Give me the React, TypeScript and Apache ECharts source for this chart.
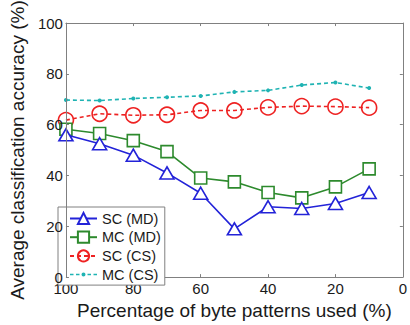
import React, { useEffect, useRef } from "react";
import * as echarts from "echarts";

const xVals = [100, 90, 80, 70, 60, 50, 40, 30, 20, 10];
const scMD = [56, 52.5, 48, 41, 33, 19, 27.7, 27, 29, 33.3];
const mcMD = [58.2, 56.5, 53.7, 49.4, 39, 37.5, 33.3, 31.2, 35.5, 42.6];
const scCS = [61.8, 64.3, 63.7, 63.9, 65.6, 65.6, 66.8, 67.3, 67.1, 66.7];
const mcCS = [69.7, 69.5, 70.3, 70.8, 71.3, 72.9, 73.5, 75.6, 76.6, 74.4];
const seriesNames = ["SC (MD)", "MC (MD)", "SC (CS)", "MC (CS)"];
const xTitle = "Percentage of byte patterns used (%)";
const yTitle = "Average classification accuracy (%)";

const FONT = "'Liberation Sans', Arial, sans-serif";
const AXIS_COLOR = "#808080";
const TEXT_COLOR = "#1a1a1a";
const DOT_LEGEND_ICON =
  "path://M0,1.25h3.5v1.5h-3.5z M6,1.25h3.5v1.5h-3.5z M17.5,1.25h3.5v1.5h-3.5z M23.5,1.25h3.5v1.5h-3.5z M11.5,2a2,2 0 1,0 4,0a2,2 0 1,0 -4,0z";

function pairs(ys: number[]) {
  return xVals.map((x, i) => [x, ys[i]]);
}

export default function App() {
  const ref = useRef<HTMLDivElement>(null);
  useEffect(() => {
    if (!ref.current) return;
    const chart = echarts.init(ref.current, undefined, { renderer: "svg" });
    const axisCommon = {
      axisLine: { show: true, onZero: false, lineStyle: { color: AXIS_COLOR, width: 1 } },
      axisTick: { show: true, inside: true, length: 3, lineStyle: { color: AXIS_COLOR } },
      splitLine: { show: false },
    };
    chart.setOption({
      animation: false,
      backgroundColor: "#fff",
      textStyle: { fontFamily: FONT },
      grid: { left: 56, top: 12, right: 1, bottom: 42.5, containLabel: false },
      xAxis: [
        {
          type: "value",
          min: 0,
          max: 100,
          interval: 20,
          inverse: true,
          position: "bottom",
          ...axisCommon,
          axisLabel: { color: TEXT_COLOR, fontSize: 15, margin: 4, fontFamily: FONT },
          name: xTitle,
          nameLocation: "middle",
          nameGap: 20,
          nameTextStyle: { color: TEXT_COLOR, fontSize: 19, fontFamily: FONT },
        },
        {
          type: "value",
          min: 0,
          max: 100,
          interval: 20,
          inverse: true,
          position: "top",
          ...axisCommon,
          axisLabel: { show: false },
        },
      ],
      yAxis: [
        {
          type: "value",
          min: 0,
          max: 100,
          interval: 20,
          position: "left",
          z: 10,
          ...axisCommon,
          axisLabel: { color: TEXT_COLOR, fontSize: 15, margin: 3, fontFamily: FONT },
          name: yTitle,
          nameLocation: "middle",
          nameGap: 23,
          nameTextStyle: { color: TEXT_COLOR, fontSize: 19, fontFamily: FONT },
        },
        {
          type: "value",
          min: 0,
          max: 100,
          interval: 20,
          position: "right",
          ...axisCommon,
          axisLabel: { show: false },
        },
      ],
      legend: {
        orient: "vertical",
        left: 58,
        top: 207,
        padding: [4, 4, 3, 11],
        itemWidth: 27,
        itemHeight: 14,
        itemGap: 3.7,
        backgroundColor: "#fff",
        borderColor: "#808080",
        borderWidth: 1,
        borderRadius: 0,
        textStyle: { color: TEXT_COLOR, fontSize: 14.5, lineHeight: 14, fontFamily: FONT },
        data: [
          { name: seriesNames[0] },
          { name: seriesNames[1] },
          { name: seriesNames[2] },
          { name: seriesNames[3], icon: DOT_LEGEND_ICON },
        ],
      },
      series: [
        {
          name: seriesNames[0],
          type: "line",
          data: pairs(scMD),
          symbol: "triangle",
          symbolSize: [14, 12],
          lineStyle: { color: "#2323d8", width: 1.6 },
          itemStyle: { color: "#ffffff", borderColor: "#2323d8", borderWidth: 1.6 },
          z: 4,
        },
        {
          name: seriesNames[1],
          type: "line",
          data: pairs(mcMD),
          symbol: "rect",
          symbolSize: 12,
          lineStyle: { color: "#2d8a2d", width: 1.6 },
          itemStyle: { color: "#ffffff", borderColor: "#2d8a2d", borderWidth: 1.6 },
          z: 3,
        },
        {
          name: seriesNames[2],
          type: "line",
          data: pairs(scCS),
          symbol: "circle",
          symbolSize: 15,
          lineStyle: { color: "#ee2222", width: 1.6, type: [4, 3] },
          itemStyle: { color: "rgba(255,255,255,0)", borderColor: "#ee2222", borderWidth: 1.6 },
          z: 2,
        },
        {
          name: seriesNames[3],
          type: "line",
          data: pairs(mcCS),
          symbol: "circle",
          symbolSize: 4,
          lineStyle: { color: "#1fb3b3", width: 1.6, type: [4, 3] },
          itemStyle: { color: "#1fb3b3", borderColor: "#1fb3b3", borderWidth: 0 },
          z: 1,
        },
      ],
    });
    return () => chart.dispose();
  }, []);
  return (
    <div
      ref={ref}
      style={{ position: "absolute", left: 0, top: 0, width: 410, height: 325 }}
    />
  );
}
